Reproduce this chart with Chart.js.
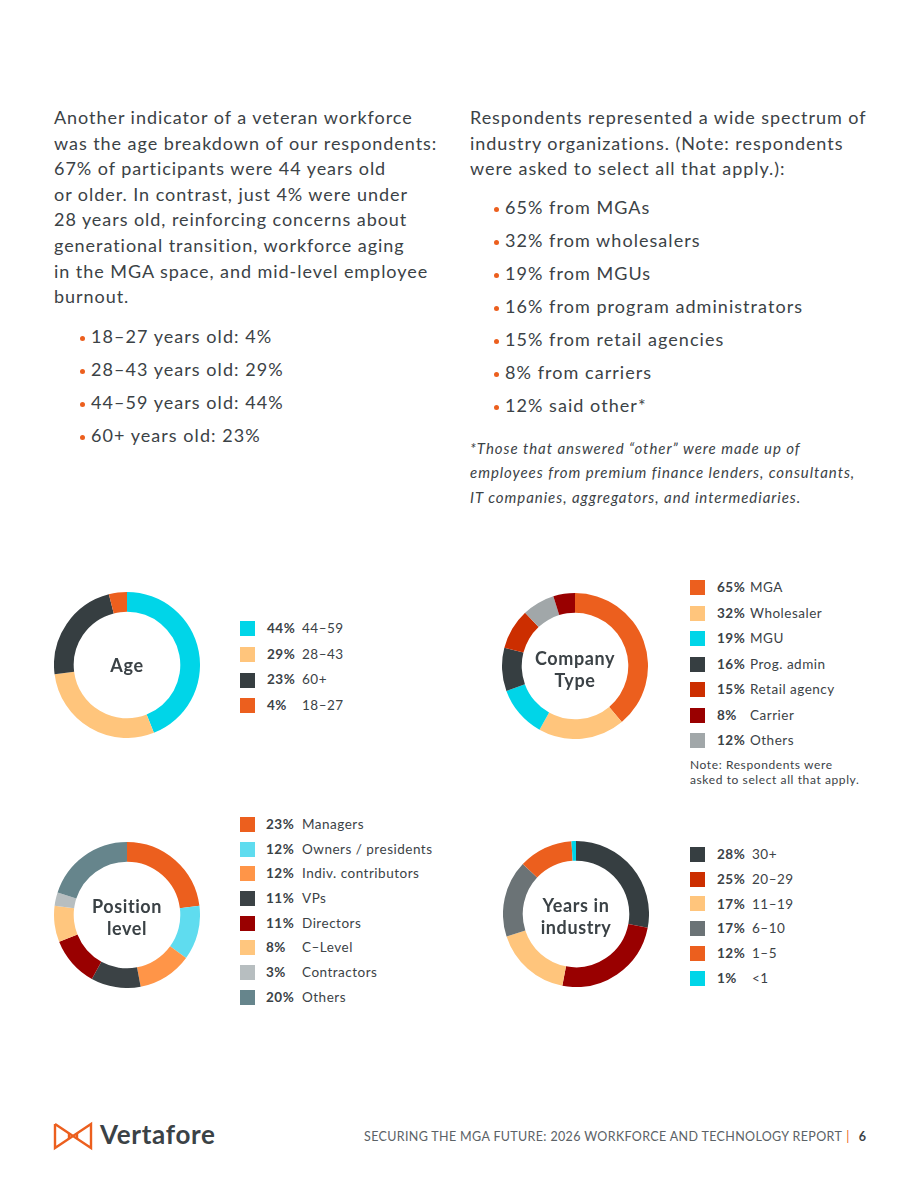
<!DOCTYPE html>
<html>
<head>
<meta charset="utf-8">
<script src="https://cdn.jsdelivr.net/npm/chart.js@4.4.1/dist/chart.umd.min.js"></script>
<style>
  html, body { margin: 0; padding: 0; background: #fff; }
  body { width: 920px; height: 1191px; position: relative; font-family: Lato, "Open Sans", sans-serif; color: #3b4246; overflow: hidden; }
  .abs { position: absolute; }
  .para { font-size: 18px; line-height: 25.6px; white-space: nowrap; letter-spacing: 0.95px; }
  .bullets { font-size: 18px; white-space: nowrap; letter-spacing: 1.05px; }
  .bullets div { height: 33px; line-height: 33px; position: relative; }
  .bullets div::before { content: ""; position: absolute; left: -11px; top: 16px; width: 5px; height: 5px; border-radius: 50%; background: #ec5f1e; }
  .foot { font-size: 15px; font-style: italic; line-height: 24.3px; white-space: nowrap; letter-spacing: 0.95px; }
  .donut { position: absolute; width: 146px; height: 146px; }
  .center { position: absolute; text-align: center; font-weight: 700; font-size: 18px; line-height: 22px; color: #3b4246; letter-spacing: 0.6px; }
  .legend { position: absolute; font-size: 13.5px; white-space: nowrap; letter-spacing: 0.5px; }
  .legend .row { position: relative; }
  .legend .sw { position: absolute; left: 0; width: 15px; height: 15px; }
  .legend .pct { position: absolute; font-weight: 700; }
  .legend .lab { position: absolute; }
  .note { font-size: 12px; line-height: 15px; white-space: nowrap; letter-spacing: 0.6px; }
</style>
</head>
<body>

<div class="abs para" style="left:54px; top:105px;">
Another indicator of a veteran workforce<br>
was the age breakdown of our respondents:<br>
67% of participants were 44 years old<br>
or older. In contrast, just 4% were under<br>
28 years old, reinforcing concerns about<br>
generational transition, workforce aging<br>
in the MGA space, and mid-level employee<br>
burnout.
</div>
<div class="abs bullets" id="ageBullets" style="left:91px; top:320px;"></div>

<div class="abs para" style="left:470px; top:105px;">
Respondents represented a wide spectrum of<br>
industry organizations. (Note: respondents<br>
were asked to select all that apply.):
</div>
<div class="abs bullets" id="companyBullets" style="left:505px; top:191px;"></div>
<div class="abs foot" style="left:470px; top:436px;">
*Those that answered “other” were made up of<br>
employees from premium finance lenders, consultants,<br>
IT companies, aggregators, and intermediaries.
</div>

<canvas id="ageChart" class="donut" width="146" height="146" style="left:54px; top:592px;"></canvas>
<div class="center" style="left:77px; top:654px; width:100px;">Age</div>
<div class="legend" id="ageLegend" style="left:240px; top:616px;"></div>

<canvas id="companyChart" class="donut" width="146" height="146" style="left:502px; top:593px;"></canvas>
<div class="center" style="left:515px; top:647px; width:120px;">Company<br>Type</div>
<div class="legend" id="companyLegend" style="left:690px; top:575px;"></div>
<div class="abs note" style="left:690px; top:757px;">Note: Respondents were<br>asked to select all that apply.</div>

<canvas id="positionChart" class="donut" width="146" height="146" style="left:54px; top:842px;"></canvas>
<div class="center" style="left:67px; top:895px; width:120px;">Position<br>level</div>
<div class="legend" id="positionLegend" style="left:240px; top:812px;"></div>

<canvas id="yearsChart" class="donut" width="146" height="146" style="left:503px; top:841px;"></canvas>
<div class="center" style="left:516px; top:894px; width:120px;">Years in<br>industry</div>
<div class="legend" id="yearsLegend" style="left:690px; top:842px;"></div>

<svg class="abs" style="left:52px; top:1121px;" width="42" height="30" viewBox="0 0 42 30">
  <g fill="none" stroke="#ec5f1e" stroke-width="2.4" stroke-linejoin="miter">
    <path d="M3 3 L3 27 L39 3 L39 27 L3 3"/>
    <path d="M17 12 L17 18 M25 12 L25 18"/>
  </g>
</svg>
<div class="abs" style="left:100px; top:1118px; font-size:26px; font-weight:700; color:#3b4246; letter-spacing:0.7px;">Vertafore</div>
<div class="abs" style="left:364px; top:1129px; font-size:12.5px; color:#5b6266; white-space:nowrap; letter-spacing:0.35px;">SECURING THE MGA FUTURE: 2026 WORKFORCE AND TECHNOLOGY REPORT <span style="color:#ec5f1e; margin-left:1px;">|</span><span style="font-weight:700; color:#3b4246; margin-left:9px;">6</span></div>

<script>
// ===== Data =====
const ageBulletText = ["18–27 years old: 4%", "28–43 years old: 29%", "44–59 years old: 44%", "60+ years old: 23%"];
const companyBulletText = ["65% from MGAs", "32% from wholesalers", "19% from MGUs", "16% from program administrators",
  "15% from retail agencies", "8% from carriers", "12% said other*"];

const ageLabels = ["44–59", "28–43", "60+", "18–27"];
const ageValues = [44, 29, 23, 4];
const ageColors = ["#00d5e8", "#ffc57c", "#363e41", "#ec5f1e"];

// slices run clockwise in this order; legend uses companyLegendOrder
const companyLabels = ["MGA", "Wholesaler", "MGU", "Prog. admin", "Retail agency", "Others", "Carrier"];
const companyValues = [65, 32, 19, 16, 15, 12, 8];
const companyColors = ["#ec5f1e", "#ffc57c", "#00d5e8", "#363e41", "#cc2e00", "#a1a7a9", "#990000"];
const companyLegendOrder = ["MGA", "Wholesaler", "MGU", "Prog. admin", "Retail agency", "Carrier", "Others"];

const positionLabels = ["Managers", "Owners / presidents", "Indiv. contributors", "VPs", "Directors", "C–Level", "Contractors", "Others"];
const positionValues = [23, 12, 12, 11, 11, 8, 3, 20];
const positionColors = ["#ec5f1e", "#5fdcef", "#ff9548", "#3b4245", "#990000", "#ffc67e", "#b7bec0", "#66858c"];

const yearsLabels = ["30+", "20–29", "11–19", "6–10", "1–5", "<1"];
const yearsValues = [28, 25, 17, 17, 12, 1];
const yearsColors = ["#363e41", "#990000", "#ffc57c", "#6b7376", "#ec5f1e", "#00d5e8"];
const yearsSwatches = ["#363e41", "#cc2e00", "#ffc57c", "#6b7376", "#ec5f1e", "#00d5e8"];

// ===== Bullets =====
function bullets(id, items) {
  const el = document.getElementById(id);
  items.forEach(t => { const d = document.createElement("div"); d.textContent = t; el.appendChild(d); });
}
bullets("ageBullets", ageBulletText);
bullets("companyBullets", companyBulletText);

// ===== Donuts =====
function donut(id, labels, values, colors) {
  new Chart(document.getElementById(id), {
    type: "doughnut",
    data: { labels: labels, datasets: [{ data: values, backgroundColor: colors, borderWidth: 0 }] },
    options: {
      responsive: false,
      animation: false,
      cutout: "73%",
      layout: { padding: 0 },
      plugins: { legend: { display: false }, tooltip: { enabled: false } }
    }
  });
}
donut("ageChart", ageLabels, ageValues, ageColors);
donut("companyChart", companyLabels, companyValues, companyColors);
donut("positionChart", positionLabels, positionValues, positionColors);
donut("yearsChart", yearsLabels, yearsValues, yearsColors);

// ===== Legends =====
function legend(id, labels, values, colors, step, pctX, labX) {
  const el = document.getElementById(id);
  labels.forEach((lab, i) => {
    const row = document.createElement("div");
    row.className = "row";
    row.style.height = step + "px";
    row.innerHTML = '<span class="sw" style="top:' + (step / 2 - 7.5) + 'px;background:' + colors[i] + '"></span>' +
      '<span class="pct" style="left:' + pctX + 'px;line-height:' + step + 'px">' + values[i] + '%</span>' +
      '<span class="lab" style="left:' + labX + 'px;line-height:' + step + 'px"></span>';
    row.querySelector(".lab").textContent = lab;
    el.appendChild(row);
  });
}
legend("ageLegend", ageLabels, ageValues, ageColors, 25.7, 27, 62);
legend("companyLegend", companyLegendOrder,
  companyLegendOrder.map(l => companyValues[companyLabels.indexOf(l)]),
  companyLegendOrder.map(l => companyColors[companyLabels.indexOf(l)]), 25.5, 27, 60);
legend("positionLegend", positionLabels, positionValues, positionColors, 24.7, 26, 62);
legend("yearsLegend", yearsLabels, yearsValues, yearsSwatches, 24.8, 27, 62);
</script>
</body>
</html>
